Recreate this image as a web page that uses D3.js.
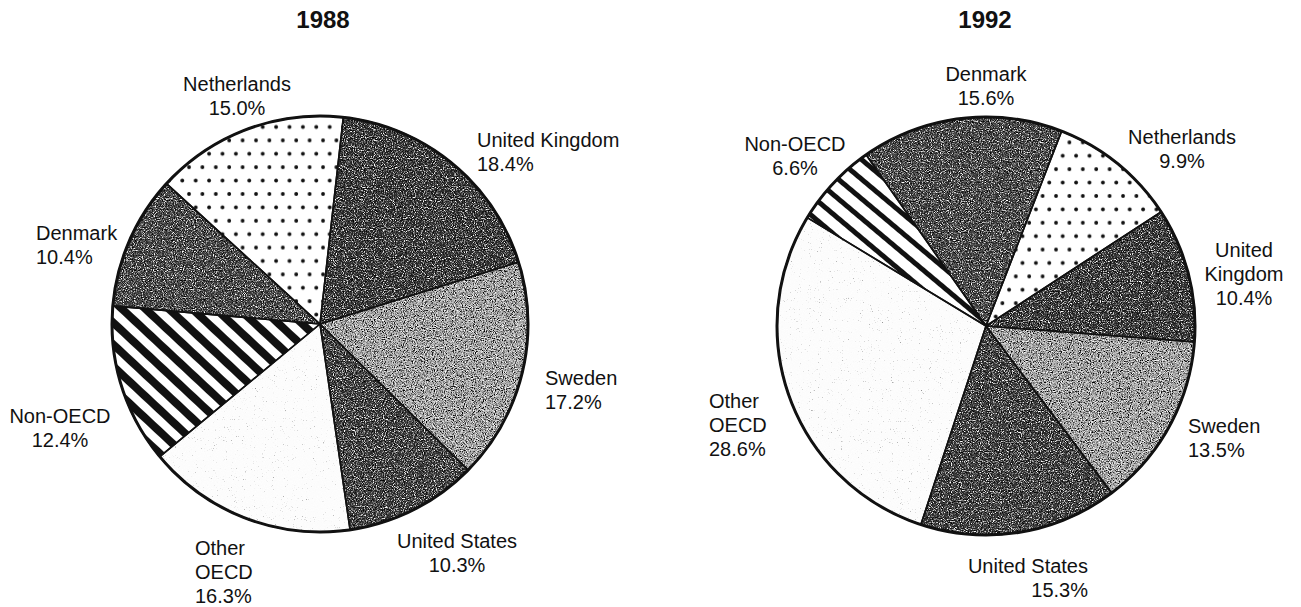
<!DOCTYPE html>
<html>
<head>
<meta charset="utf-8">
<script src="https://cdn.jsdelivr.net/npm/d3@7/dist/d3.min.js"></script>
<style>
  html, body { margin: 0; padding: 0; background: #ffffff; }
  svg { display: block; }
  text { font-family: "Liberation Sans", Arial, Helvetica, sans-serif; fill: #111; }
</style>
</head>
<body>
<svg id="chart" width="1301" height="607"></svg>
<script>
// ---------------- data ----------------
const categories = ["Denmark", "Netherlands", "United Kingdom", "Sweden", "United States", "Other OECD", "Non-OECD"];
const years = ["1988", "1992"];
const values1988 = [10.4, 15.0, 18.4, 17.2, 10.3, 16.3, 12.4];
const values1992 = [15.6, 9.9, 10.4, 13.5, 15.3, 28.6, 6.6];
// how each category name is broken into lines in each pie
const nameLines1988 = [["Denmark"], ["Netherlands"], ["United Kingdom"], ["Sweden"], ["United States"], ["Other", "OECD"], ["Non-OECD"]];
const nameLines1992 = [["Denmark"], ["Netherlands"], ["United", "Kingdom"], ["Sweden"], ["United States"], ["Other", "OECD"], ["Non-OECD"]];

// ---------------- layout (positions / styles) ----------------
const W = 1301, H = 607;
const pies = [
  { year: years[0], values: values1988, names: nameLines1988, cx: 320, cy: 324, r: 208, start: 275, titleX: 323, stripe: "stripesA",
    // label anchor offsets from pie centre: [dx, dy of first baseline, anchor]
    labels: [[-284, -84, "start"], [-83, -233, "middle"], [157, -177, "start"], [225, 61, "start"],
             [137, 224, "middle"], [-125, 231, "start"], [-260, 99, "middle"]] },
  { year: years[1], values: values1992, names: nameLines1992, cx: 986, cy: 326, r: 209, start: -35, titleX: 985, stripe: "stripesB",
    labels: [[0, -245, "middle"], [196, -182, "middle"], [258, -69, "middle"], [202, 107, "start"],
             [102, 247, "end"], [-277, 82, "start"], [-191, -175, "middle"]] }
];
const lineH = 23.8;
// fills per category: [base colour, filter]
const fills = [
  ["#464646", "grain"],   // Denmark  - dark stipple
  ["url(#dots)", null],   // Netherlands - dots
  ["#363636", "grain"],   // UK - darkest stipple
  ["#ababab", "grain"],   // Sweden - mid grey texture
  ["#3e3e3e", "grain"],   // US - dark stipple
  ["#fbfbfb", "grainLight"], // Other OECD - near white speckle
  ["STRIPE", null]        // Non-OECD - diagonal stripes
];

const svg = d3.select("#chart");
svg.append("rect").attr("width", W).attr("height", H).attr("fill", "#fff");
const defs = svg.append("defs");

// dot pattern
const dots = defs.append("pattern").attr("id", "dots").attr("patternUnits", "userSpaceOnUse")
  .attr("width", 13.4).attr("height", 26.8);
dots.append("rect").attr("width", 13.4).attr("height", 26.8).attr("fill", "#fff");
dots.append("circle").attr("cx", 3).attr("cy", 4).attr("r", 1.9).attr("fill", "#111");
dots.append("circle").attr("cx", 9.7).attr("cy", 17.4).attr("r", 1.9).attr("fill", "#111");

// stripe patterns
function stripe(id, period, black, angle) {
  const p = defs.append("pattern").attr("id", id).attr("patternUnits", "userSpaceOnUse")
    .attr("width", period).attr("height", period).attr("patternTransform", `rotate(${angle})`);
  p.append("rect").attr("width", period).attr("height", period).attr("fill", "#fff");
  p.append("rect").attr("width", black).attr("height", period).attr("fill", "#111");
}
stripe("stripesA", 16, 8, -47);
stripe("stripesB", 15, 5, -50);

// grain filters
function grain(id, slope, intercept, freq, seed) {
  const f = defs.append("filter").attr("id", id).attr("x", "-5%").attr("y", "-5%")
    .attr("width", "110%").attr("height", "110%").attr("color-interpolation-filters", "sRGB");
  f.append("feTurbulence").attr("type", "fractalNoise").attr("baseFrequency", freq)
    .attr("numOctaves", 2).attr("seed", seed).attr("result", "t");
  f.append("feColorMatrix").attr("in", "t").attr("type", "matrix")
    .attr("values", "0.33 0.33 0.33 0 0  0.33 0.33 0.33 0 0  0.33 0.33 0.33 0 0  0 0 0 0 1").attr("result", "g");
  const ct = f.append("feComponentTransfer").attr("in", "g").attr("result", "gc");
  ["feFuncR", "feFuncG", "feFuncB"].forEach(n => ct.append(n).attr("type", "linear").attr("slope", slope).attr("intercept", intercept));
  f.append("feBlend").attr("in", "SourceGraphic").attr("in2", "gc").attr("mode", "overlay").attr("result", "b");
  f.append("feComposite").attr("in", "b").attr("in2", "SourceGraphic").attr("operator", "in");
}
grain("grain", 3.2, -1.1, 0.9, 4);
grain("grainLight", 1.2, 0.05, 0.9, 9);

const rad = d => d * Math.PI / 180;
const fmt = d3.format(".1f");

pies.forEach(p => {
  const pie = d3.pie().sort(null).value(d => d.v)
    .startAngle(rad(p.start)).endAngle(rad(p.start + 360));
  const data = pie(categories.map((c, i) => ({ c, v: p.values[i], i })));
  const arc = d3.arc().innerRadius(0).outerRadius(p.r);
  const g = svg.append("g").attr("transform", `translate(${p.cx},${p.cy})`);

  // fills
  g.selectAll("path.fill").data(data).join("path").attr("class", "fill")
    .attr("d", arc)
    .attr("fill", d => fills[d.data.i][0] === "STRIPE" ? `url(#${p.stripe})` : fills[d.data.i][0])
    .attr("filter", d => fills[d.data.i][1] ? `url(#${fills[d.data.i][1]})` : null);

  // slice edges
  g.selectAll("path.edge").data(data).join("path").attr("class", "edge")
    .attr("d", arc).attr("fill", "none").attr("stroke", "#111").attr("stroke-width", 1.6)
    .attr("stroke-linejoin", "round");
  // outer rim
  g.append("circle").attr("r", p.r).attr("fill", "none").attr("stroke", "#111").attr("stroke-width", 3);

  // title
  svg.append("text").attr("x", p.titleX).attr("y", 28).attr("text-anchor", "middle")
    .attr("font-size", 24).attr("font-weight", "bold").text(p.year);

  // labels
  data.forEach(d => {
    const i = d.data.i;
    const [dx, dy, anchor] = p.labels[i];
    const lines = p.names[i].concat([fmt(p.values[i]) + "%"]);
    const t = svg.append("text").attr("text-anchor", anchor).attr("font-size", 20);
    lines.forEach((ln, k) => {
      t.append("tspan").attr("x", p.cx + dx).attr("y", p.cy + dy + k * lineH).text(ln);
    });
  });
});
</script>
</body>
</html>
